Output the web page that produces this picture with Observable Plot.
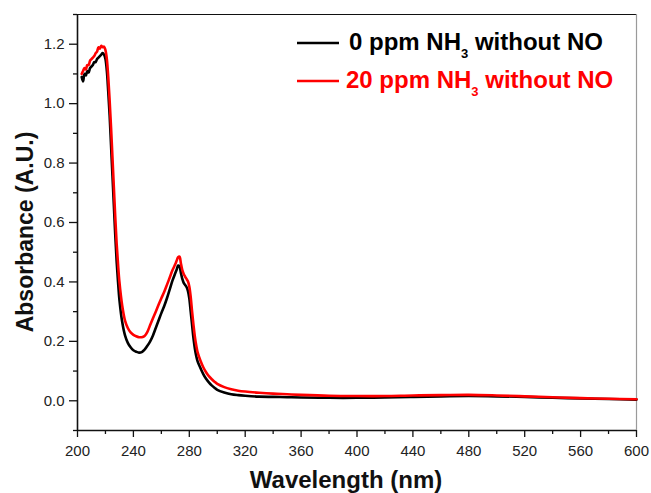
<!DOCTYPE html>
<html>
<head>
<meta charset="utf-8">
<script src="https://cdn.jsdelivr.net/npm/d3@7"></script>
<script src="https://cdn.jsdelivr.net/npm/@observablehq/plot@0.6"></script>
<style>
  html, body { margin: 0; padding: 0; background: #fff; }
  #chart { position: relative; width: 651px; height: 493px; }
</style>
</head>
<body>
<div id="chart"></div>
<script>
// UV-vis absorption spectra (absorbance vs wavelength)
const wavelength = [
  203, 204, 205, 206, 207, 208, 209, 210, 211, 212, 213, 214, 215, 216, 217, 218, 219, 220,
  221, 222, 223, 224, 225, 226, 227, 228, 229, 230,
  232, 234, 236, 238, 240, 242, 244, 246, 248, 250, 252, 254, 256, 258, 260, 262, 264, 266, 268,
  270, 271, 272, 273, 274, 275, 276, 277, 278, 279, 280, 281, 282, 283, 284, 285, 286,
  288, 290, 292, 294, 296, 298, 300,
  305, 310, 315, 320, 330, 340, 350, 360, 380, 400, 420, 440, 460, 480, 500, 520, 540, 560, 580, 600
];

// 0 ppm NH3 without NO
const absorbance0 = [
  1.09, 1.075, 1.10, 1.095, 1.11, 1.105, 1.12, 1.125, 1.13, 1.14, 1.14, 1.15, 1.155, 1.16, 1.165, 1.17, 1.165, 1.15,
  1.11, 1.04, 0.96, 0.86, 0.76, 0.66, 0.56, 0.47, 0.40, 0.34,
  0.265, 0.22, 0.195, 0.18, 0.17, 0.165, 0.162, 0.164, 0.172, 0.185, 0.20, 0.22, 0.245, 0.27, 0.295, 0.318, 0.345, 0.375, 0.405,
  0.43, 0.442, 0.455, 0.452, 0.43, 0.41, 0.397, 0.39, 0.383, 0.37, 0.345, 0.30, 0.255, 0.21, 0.175, 0.15, 0.132,
  0.11, 0.09, 0.074, 0.062, 0.052, 0.044, 0.037,
  0.028, 0.022, 0.019, 0.017, 0.014, 0.013, 0.012, 0.011, 0.010, 0.010, 0.011, 0.013, 0.015, 0.016, 0.015, 0.013, 0.010, 0.008, 0.006, 0.004
];

// 20 ppm NH3 without NO
const absorbance20 = [
  1.10, 1.11, 1.12, 1.115, 1.13, 1.13, 1.145, 1.15, 1.155, 1.16, 1.17, 1.175, 1.19, 1.185, 1.195, 1.19, 1.192, 1.18,
  1.15, 1.09, 1.01, 0.92, 0.82, 0.72, 0.62, 0.53, 0.46, 0.40,
  0.32, 0.27, 0.245, 0.23, 0.222, 0.217, 0.214, 0.214, 0.218, 0.232, 0.255, 0.278, 0.30, 0.323, 0.345, 0.366, 0.39, 0.415, 0.44,
  0.46, 0.472, 0.483, 0.485, 0.462, 0.44, 0.427, 0.418, 0.41, 0.402, 0.385, 0.35, 0.30, 0.255, 0.215, 0.185, 0.162,
  0.135, 0.113, 0.096, 0.083, 0.073, 0.064, 0.057,
  0.046, 0.039, 0.034, 0.031, 0.027, 0.024, 0.022, 0.020, 0.017, 0.016, 0.016, 0.018, 0.019, 0.020, 0.018, 0.015, 0.012, 0.009, 0.007, 0.005
];

const seriesNames = ["0 ppm NH3 without NO", "20 ppm NH3 without NO"];
const seriesColors = ["#000000", "#ff0000"];

const xTicks = [200, 240, 280, 320, 360, 400, 440, 480, 520, 560, 600];
const xMinorTicks = [220, 260, 300, 340, 380, 420, 460, 500, 540, 580];
const yTicks = [0.0, 0.2, 0.4, 0.6, 0.8, 1.0, 1.2];
const yMinorTicks = [-0.1, 0.1, 0.3, 0.5, 0.7, 0.9, 1.1, 1.3];

const rows = [];
[absorbance0, absorbance20].forEach((values, s) => {
  values.forEach((a, i) => rows.push({series: seriesNames[s], wl: wavelength[i], abs: a}));
});

const font = "'Liberation Sans', Arial, Helvetica, sans-serif";

const chart = Plot.plot({
  width: 651,
  height: 493,
  marginLeft: 77,
  marginRight: 15,
  marginTop: 14,
  marginBottom: 63,
  style: {fontFamily: font, background: "#fff", color: "#222"},
  x: {domain: [200, 600]},
  y: {domain: [-0.1, 1.3]},
  color: {domain: seriesNames, range: seriesColors},
  marks: [
    // box frame
    Plot.ruleY([1.3], {stroke: "#111", strokeWidth: 1}),
    Plot.ruleX([600], {stroke: "#9a9a9a", strokeWidth: 1.2}),
    // axes with major and minor ticks
    Plot.axisX(xMinorTicks, {tickSize: 4, tickFormat: () => "", strokeWidth: 1.3, stroke: "#111", label: null}),
    Plot.axisX(xTicks, {tickSize: 7, tickPadding: 8, fontSize: 15, strokeWidth: 1.3, stroke: "#111", fill: "#222", label: null}),
    Plot.axisY(yMinorTicks, {tickSize: 4, tickFormat: () => "", strokeWidth: 1.3, stroke: "#111", label: null}),
    Plot.axisY(yTicks, {tickSize: 8, tickPadding: 5, fontSize: 15, tickFormat: d3.format(".1f"), strokeWidth: 1.3, stroke: "#111", fill: "#222", label: null}),
    Plot.ruleX([200], {stroke: "#111", strokeWidth: 1.6}),
    Plot.ruleY([-0.1], {stroke: "#111", strokeWidth: 1.6}),
    // spectra
    Plot.line(rows, {x: "wl", y: "abs", z: "series", stroke: "series", strokeWidth: 2.6, curve: "catmull-rom"}),
    // x-axis title
    Plot.text(["Wavelength (nm)"], {frameAnchor: "bottom", lineAnchor: "bottom", dx: -11, dy: 57, fontSize: 24, fontWeight: "bold", fill: "#111"})
  ]
});

document.getElementById("chart").appendChild(chart);

const svg = d3.select(chart);

// y-axis title, rotated along the left edge
svg.append("text")
  .attr("transform", "translate(33,232) rotate(-90)")
  .attr("text-anchor", "middle")
  .attr("font-family", font)
  .attr("font-weight", "bold")
  .attr("font-size", 23)
  .attr("fill", "#111")
  .text("Absorbance (A.U.)");

// legend inside the plot area, with subscripted "3"
const legend = [
  {lead: "0 ppm NH", sub: "3", tail: " without NO", color: seriesColors[0], ly: 43, tx: 349, ty: 50},
  {lead: "20 ppm NH", sub: "3", tail: " without NO", color: seriesColors[1], ly: 81, tx: 346, ty: 88}
];
const lg = svg.append("g")
  .attr("font-family", font)
  .attr("font-weight", "bold")
  .attr("text-anchor", "start");
legend.forEach((d) => {
  lg.append("line")
    .attr("x1", 297).attr("x2", 339).attr("y1", d.ly).attr("y2", d.ly)
    .attr("stroke", d.color).attr("stroke-width", 2.6);
  const t = lg.append("text").attr("x", d.tx).attr("y", d.ty).attr("fill", d.color).attr("font-size", 24);
  t.append("tspan").text(d.lead);
  t.append("tspan").attr("dy", 8).attr("font-size", 13).text(d.sub);
  t.append("tspan").attr("dy", -8).text(d.tail);
});
</script>
</body>
</html>
